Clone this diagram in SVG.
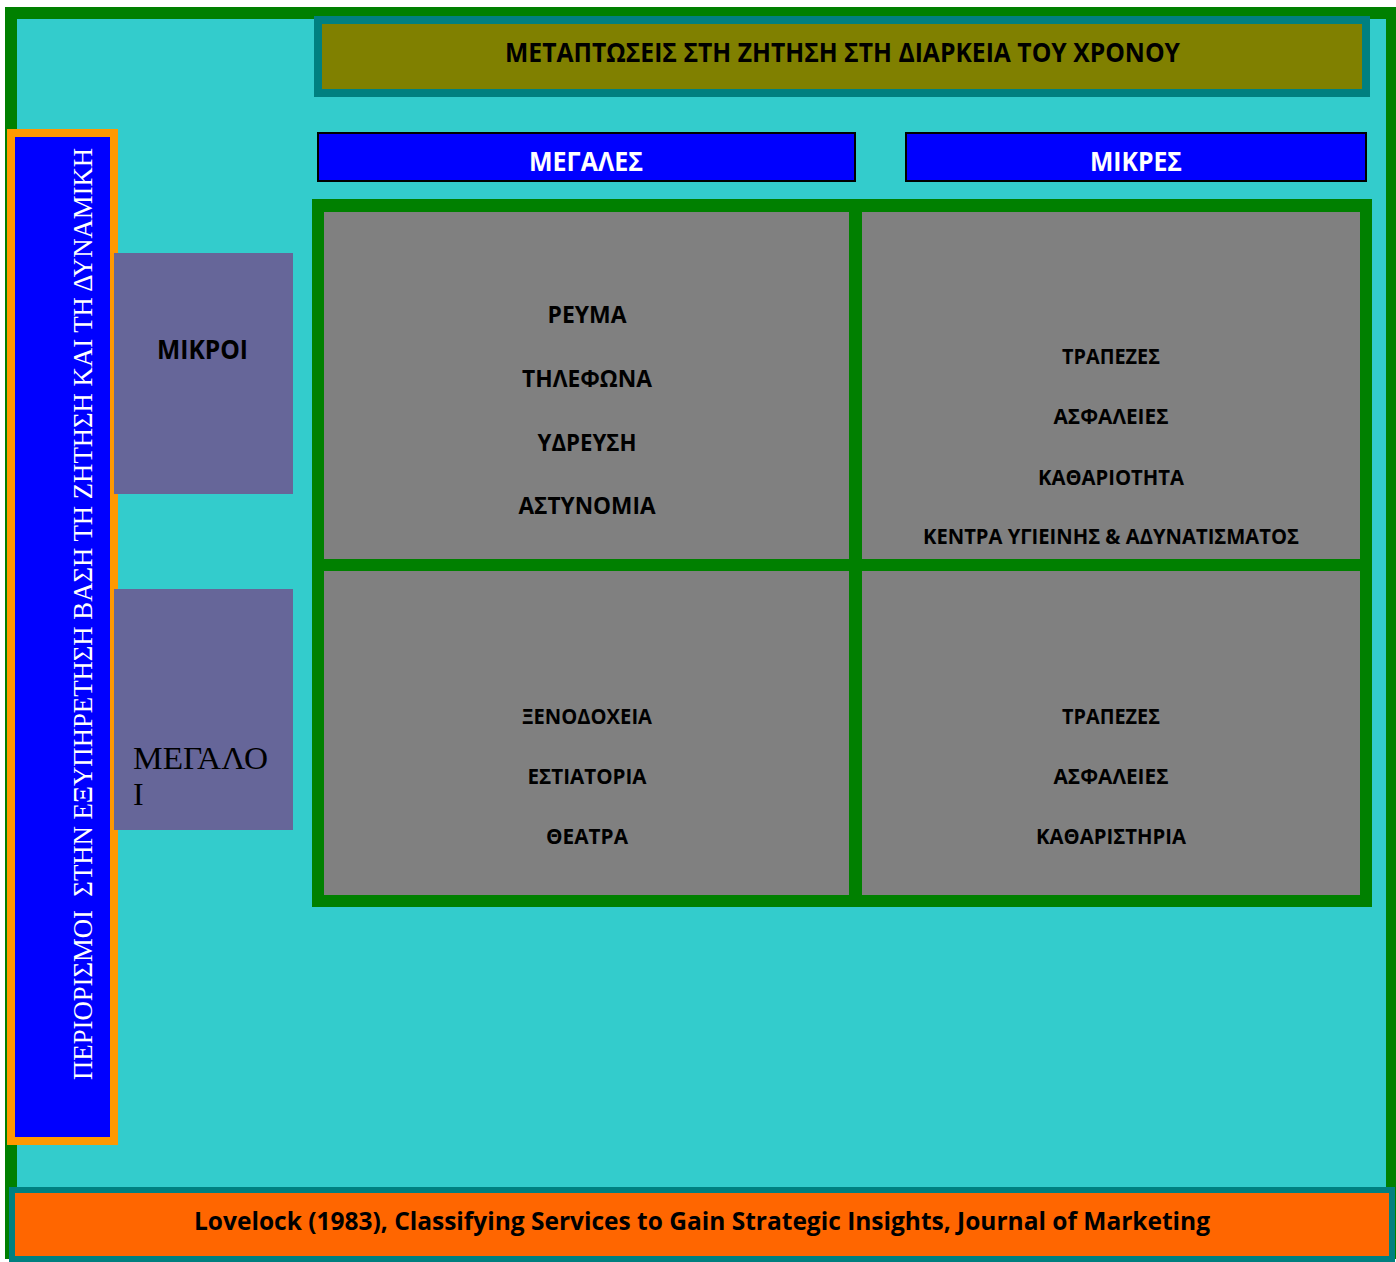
<svg xmlns="http://www.w3.org/2000/svg" width="1396" height="1262" viewBox="0 0 1396 1262">
<style>
.sans{font-family:"Open Sans","Noto Sans","Liberation Sans",sans-serif;font-weight:bold;fill:#000}
.serif{font-family:"Liberation Serif","DejaVu Serif",serif}
.mid{text-anchor:middle}
.cell{fill:#808080}
.hdr{fill:#0000FF;stroke:#000;stroke-width:2}
.side{fill:#666699}
</style>
<rect x="0" y="0" width="1396" height="1262" fill="#FFFFFF"/>
<g id="frame">
<rect x="11" y="13" width="1381" height="1240" fill="#33CCCC" stroke="#008000" stroke-width="12"/>
</g>
<g id="title">
<rect x="318" y="20" width="1048" height="73" fill="#808000" stroke="#008080" stroke-width="8"/>
<text class="sans mid" x="842.5" y="62" font-size="26.5" textLength="675" lengthAdjust="spacingAndGlyphs">ΜΕΤΑΠΤΩΣΕΙΣ ΣΤΗ ΖΗΤΗΣΗ ΣΤΗ ΔΙΑΡΚΕΙΑ ΤΟΥ ΧΡΟΝΟΥ</text>
</g>
<g id="left-bar">
<rect x="11" y="133" width="103" height="1008" fill="#0000FF" stroke="#FF9900" stroke-width="8"/>
<text class="serif mid" transform="translate(92,614) rotate(-90)" x="0" y="0" font-size="26.5" fill="#FFFFFF" textLength="932" lengthAdjust="spacingAndGlyphs" xml:space="preserve">ΠΕΡΙΟΡΙΣΜΟΙ  ΣΤΗΝ ΕΞΥΠΗΡΕΤΗΣΗ ΒΑΣΗ ΤΗ ΖΗΤΗΣΗ ΚΑΙ ΤΗ ΔΥΝΑΜΙΚΗ</text>
</g>
<g id="header-megales">
<rect class="hdr" x="318" y="133" width="537" height="48"/>
<text class="sans mid" x="586" y="171" font-size="26.5" style="fill:#FFFFFF" textLength="114" lengthAdjust="spacingAndGlyphs">ΜΕΓΑΛΕΣ</text>
</g>
<g id="header-mikres">
<rect class="hdr" x="906" y="133" width="460" height="48"/>
<text class="sans mid" x="1136" y="171" font-size="26.5" style="fill:#FFFFFF" textLength="92" lengthAdjust="spacingAndGlyphs">ΜΙΚΡΕΣ</text>
</g>
<g id="row-mikroi">
<rect class="side" x="114" y="253" width="179" height="241"/>
<text class="sans mid" x="202.5" y="359" font-size="27.5" textLength="91" lengthAdjust="spacingAndGlyphs">ΜΙΚΡΟΙ</text>
</g>
<g id="row-megaloi">
<rect class="side" x="114" y="589" width="179" height="241"/>
<text class="serif" x="133" y="769" font-size="32" fill="#000" textLength="135" lengthAdjust="spacingAndGlyphs">ΜΕΓΑΛΟ</text>
<text class="serif" x="133" y="805" font-size="32" fill="#000">Ι</text>
</g>
<g id="grid">
<rect x="312" y="199" width="1060" height="708" fill="#008000"/>
</g>
<g id="cell-top-left">
<rect class="cell" x="324" y="212" width="525" height="347"/>
<text class="sans mid" x="587" y="323" font-size="23" textLength="79" lengthAdjust="spacingAndGlyphs">ΡΕΥΜΑ</text>
<text class="sans mid" x="587" y="387" font-size="23" textLength="130" lengthAdjust="spacingAndGlyphs">ΤΗΛΕΦΩΝΑ</text>
<text class="sans mid" x="587" y="451" font-size="23" textLength="99" lengthAdjust="spacingAndGlyphs">ΥΔΡΕΥΣΗ</text>
<text class="sans mid" x="587" y="514" font-size="23" textLength="137" lengthAdjust="spacingAndGlyphs">ΑΣΤΥΝΟΜΙΑ</text>
</g>
<g id="cell-top-right">
<rect class="cell" x="862" y="212" width="498" height="347"/>
<text class="sans mid" x="1111" y="364" font-size="21.5" textLength="98" lengthAdjust="spacingAndGlyphs">ΤΡΑΠΕΖΕΣ</text>
<text class="sans mid" x="1111" y="424" font-size="21.5" textLength="115" lengthAdjust="spacingAndGlyphs">ΑΣΦΑΛΕΙΕΣ</text>
<text class="sans mid" x="1111" y="485" font-size="21.5" textLength="146" lengthAdjust="spacingAndGlyphs">ΚΑΘΑΡΙΟΤΗΤΑ</text>
<text class="sans mid" x="1111" y="544" font-size="21.5" textLength="376" lengthAdjust="spacingAndGlyphs">ΚΕΝΤΡΑ ΥΓΙΕΙΝΗΣ &amp; ΑΔΥΝΑΤΙΣΜΑΤΟΣ</text>
</g>
<g id="cell-bottom-left">
<rect class="cell" x="324" y="571" width="525" height="324"/>
<text class="sans mid" x="587" y="724" font-size="21.5" textLength="130" lengthAdjust="spacingAndGlyphs">ΞΕΝΟΔΟΧΕΙΑ</text>
<text class="sans mid" x="587" y="784" font-size="21.5" textLength="119" lengthAdjust="spacingAndGlyphs">ΕΣΤΙΑΤΟΡΙΑ</text>
<text class="sans mid" x="587" y="844" font-size="21.5" textLength="82" lengthAdjust="spacingAndGlyphs">ΘΕΑΤΡΑ</text>
</g>
<g id="cell-bottom-right">
<rect class="cell" x="862" y="571" width="498" height="324"/>
<text class="sans mid" x="1111" y="724" font-size="21.5" textLength="98" lengthAdjust="spacingAndGlyphs">ΤΡΑΠΕΖΕΣ</text>
<text class="sans mid" x="1111" y="784" font-size="21.5" textLength="115" lengthAdjust="spacingAndGlyphs">ΑΣΦΑΛΕΙΕΣ</text>
<text class="sans mid" x="1111" y="844" font-size="21.5" textLength="150" lengthAdjust="spacingAndGlyphs">ΚΑΘΑΡΙΣΤΗΡΙΑ</text>
</g>
<g id="footer">
<rect x="12" y="1190" width="1380" height="69" fill="#FF6600" stroke="#008080" stroke-width="6"/>
<text class="sans mid" x="702" y="1230" font-size="25.5" textLength="1016" lengthAdjust="spacingAndGlyphs">Lovelock (1983), Classifying Services to Gain Strategic Insights, Journal of Marketing</text>
</g>
<g id="connectors"></g>
</svg>
